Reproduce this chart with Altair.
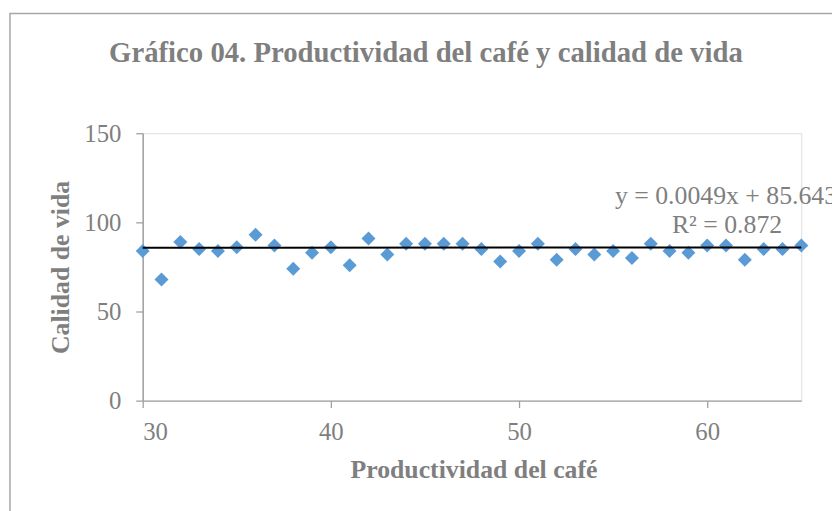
import altair as alt
import pandas as pd

# ---- data ----
productividad = list(range(30, 66))
calidad = [84, 68, 89, 85, 84, 86, 93, 87, 74, 83,
           86, 76, 91, 82, 88, 88, 88, 88, 85, 78,
           84, 88, 79, 85, 82, 84, 80, 88, 84, 83,
           87, 87, 79, 85, 85, 87]
trend_slope = 0.0049
trend_intercept = 85.643
trend_x = [30, 65]
x_ticks = [30, 40, 50, 60]
y_ticks = [0, 50, 100, 150]
eq_lines = ["y = 0.0049x + 85.643", "R² = 0.872"]
title_text = "Gráfico 04. Productividad del café y calidad de vida"
x_title = "Productividad del café"
y_title = "Calidad de vida"

pts = pd.DataFrame({"x": productividad, "y": calidad})
trend = pd.DataFrame({"x": trend_x,
                      "y": [trend_intercept + trend_slope * v for v in trend_x]})
one = pd.DataFrame({"a": [0]})

FONT = "Liberation Serif"
GRAY = "#7f7f7f"
AXIS_GRAY = "#a0a0a0"

xenc = alt.X("x:Q",
             scale=alt.Scale(domain=[30, 65], nice=False, zero=False),
             axis=alt.Axis(values=x_ticks, title=x_title, grid=False,
                           domainColor=AXIS_GRAY, domainWidth=1.5,
                           tickColor=AXIS_GRAY, tickWidth=1.3, tickSize=7,
                           labelFont=FONT, labelFontSize=25, labelColor=GRAY,
                           labelPadding=12,
                           titleFont=FONT, titleFontSize=26, titleFontWeight="bold",
                           titleColor=GRAY, titleBaseline="alphabetic",
                           titleX=334, titleY=78, titleAlign="center"))
yenc = alt.Y("y:Q",
             scale=alt.Scale(domain=[0, 150], nice=False),
             axis=alt.Axis(values=y_ticks, title=y_title, grid=False,
                           domainColor=AXIS_GRAY, domainWidth=1.5,
                           tickColor=AXIS_GRAY, tickWidth=1.3, tickSize=7,
                           labelFont=FONT, labelFontSize=25, labelColor=GRAY,
                           labelPadding=15,
                           titleFont=FONT, titleFontSize=26, titleFontWeight="bold",
                           titleColor=GRAY, titleBaseline="alphabetic",
                           titleAngle=270, titleX=-75, titleY=135, titleAlign="center"))

frame = alt.Chart(one).mark_rect(fillOpacity=0, stroke="#a6a6a6", strokeWidth=1.5).encode(
    x=alt.value(-134), x2=alt.value(1200), y=alt.value(-121), y2=alt.value(1200))

title = alt.Chart(one).mark_text(text=title_text, font=FONT, fontSize=29, fontWeight="bold",
                                 color=GRAY, align="center", baseline="alphabetic").encode(
    x=alt.value(286), y=alt.value(-72))

points = alt.Chart(pts).mark_point(shape="diamond", filled=True, size=200,
                                   color="#5B9BD5", opacity=1).encode(x=xenc, y=yenc)

line = alt.Chart(trend).mark_line(color="#000000", strokeWidth=2).encode(x=xenc, y=yenc)

eq1 = alt.Chart(one).mark_text(text=eq_lines[0], font=FONT, fontSize=26, color=GRAY,
                               align="center", baseline="alphabetic").encode(
    x=alt.value(589), y=alt.value(71))
eq2 = alt.Chart(one).mark_text(text=eq_lines[1], font=FONT, fontSize=26, color=GRAY,
                               align="center", baseline="alphabetic").encode(
    x=alt.value(590), y=alt.value(101))

chart = alt.layer(frame, title, points, line, eq1, eq2).properties(
    width=665, height=270,
    autosize=alt.AutoSizeParams(type="none"),
    padding={"left": 136, "top": 124, "right": 31, "bottom": 109},
).configure_view(strokeWidth=0).configure(background="#ffffff")

chart.save("out.html", embed_options={"renderer": "svg", "actions": False})
